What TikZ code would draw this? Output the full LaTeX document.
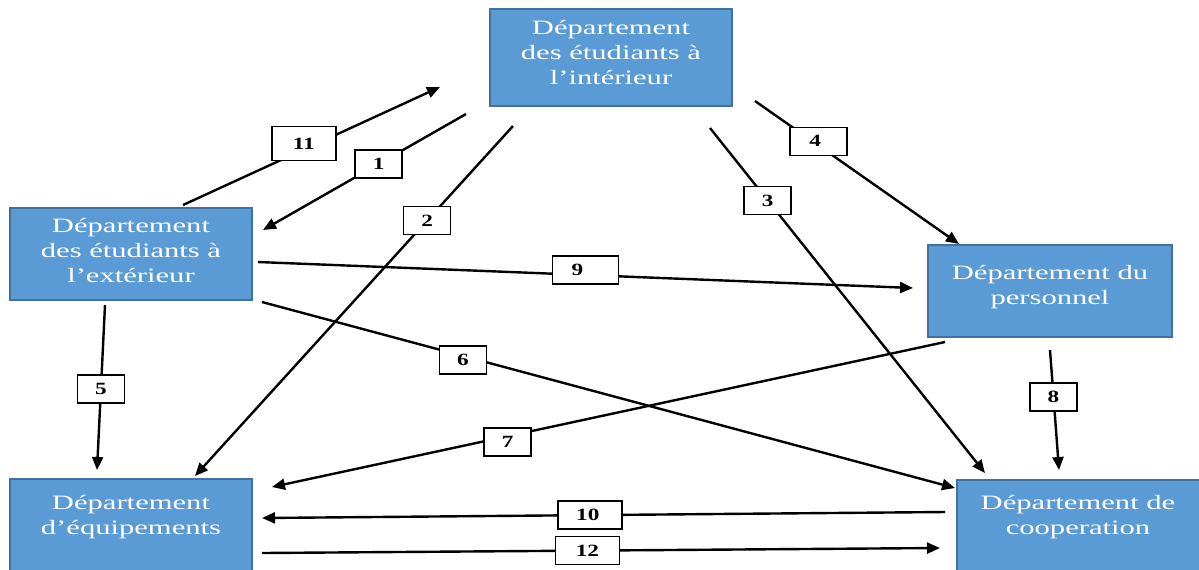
\documentclass[tikz,border=0pt]{standalone}
\usepackage{fontspec}
\setmainfont{Liberation Serif}
\newfontfamily\deptfont[FakeStretch=1.5]{Liberation Serif}
\newfontfamily\numfont[FakeStretch=1.35]{Liberation Serif}
\usetikzlibrary{arrows.meta}
\definecolor{deptblue}{HTML}{5B9BD5}
\definecolor{deptedge}{HTML}{41719C}

\begin{document}
\begin{tikzpicture}[x=0.5pt,y=-0.5pt,
  dept/.style={draw=deptedge, line width=0.6pt, fill=deptblue, inner sep=0pt},
  depttext/.style={text=white, font=\deptfont\fontsize{10.2}{12.5}\selectfont,
    align=center, inner sep=0pt},
  num/.style={draw=black, fill=white, line width=0.8pt, minimum width=23.5pt,
    minimum height=14pt, inner sep=0pt,
    font=\numfont\bfseries\fontsize{8.6}{10}\selectfont},
  wide/.style={minimum width=32pt},
  flow/.style={line width=1.2pt, -{Triangle[length=6.5pt,width=5.5pt]}}]

\clip (0,0) rectangle (1199,569);
\fill[white] (0,0) rectangle (1199,569);

% departments
\node[dept, minimum width=121pt, minimum height=48.5pt] (int) at (611,57.5) {};
\node[depttext] (intT) at ([yshift=2.5pt]int.center)
  {Département\\des étudiants à\\l’intérieur};

\node[dept, minimum width=121pt, minimum height=46pt] (ext) at (131,254) {};
\node[depttext] (extT) at ([yshift=2pt]ext.center)
  {Département\\des étudiants à\\l’extérieur};

\node[dept, minimum width=122pt, minimum height=46pt] (pers) at (1050,291) {};
\node[depttext] (persT) at ([yshift=2.2pt]pers.center)
  {Département du\\personnel};

\node[dept, minimum width=121pt, minimum height=52pt] (equip) at (131,531) {};
\node[depttext] (equipT) at (131,517.5) {Département\\d’équipements};

\node[dept, minimum width=124pt, minimum height=52pt] (coop) at (1081,532) {};
\node[depttext] (coopT) at (1078,517.5) {Département de\\cooperation};

% connector end points
\coordinate (a1) at (466,114);  \coordinate (b1) at (263,230);
\coordinate (a11) at (183,205); \coordinate (b11) at (440,87);
\coordinate (a2) at (513,126);  \coordinate (b2) at (195,476);
\coordinate (a3) at (710,128);  \coordinate (b3) at (985,473);
\coordinate (a4) at (755,101);  \coordinate (b4) at (959,244);
\coordinate (a9) at (258,262);  \coordinate (b9) at (913,288);
\coordinate (a6) at (262,302);  \coordinate (b6) at (955,488);
\coordinate (a5) at (105,305);  \coordinate (b5) at (97,470);
\coordinate (a8) at (1050,350); \coordinate (b8) at (1059,470);
\coordinate (a7) at (945,342);  \coordinate (b7) at (272,487);
\coordinate (a10) at (945,512); \coordinate (b10) at (262,518);
\coordinate (a12) at (262,553); \coordinate (b12) at (940,548);

% flows with their numbers
\draw[flow] (a1) -- node[num, pos=0.43] (n1) {1} (b1);
\draw[flow] (a11) -- node[num, wide, minimum height=17pt, pos=0.47, yshift=3pt] (n11) {11} (b11);
\draw[flow] (a2) -- node[num, pos=0.27] (n2) {2} (b2);
\draw[flow] (a3) -- node[num, pos=0.21] (n3) {3} (b3);
\draw[flow] (a4) -- node[num, minimum width=28.5pt, pos=0.31, yshift=2pt] (n4) {\hspace*{-3pt}4} (b4);
\draw[flow] (a9) -- node[num, minimum width=33pt, pos=0.5, yshift=2.5pt] (n9) {\hspace*{-8pt}9} (b9);
\draw[flow] (a6) -- node[num, pos=0.29, yshift=-2pt] (n6) {6} (b6);
\draw[flow] (a5) -- node[num, pos=0.51] (n5) {5} (b5);
\draw[flow] (a8) -- node[num, pos=0.39] (n8) {8} (b8);
\draw[flow] (a7) -- node[num, pos=0.65, yshift=-3pt] (n7) {7} (b7);
\draw[flow] (a10) -- node[num, wide, pos=0.52] (n10) {\hspace*{-2pt}10} (b10);
\draw[flow] (a12) -- node[num, wide, pos=0.48] (n12) {12} (b12);
\end{tikzpicture}
\end{document}
